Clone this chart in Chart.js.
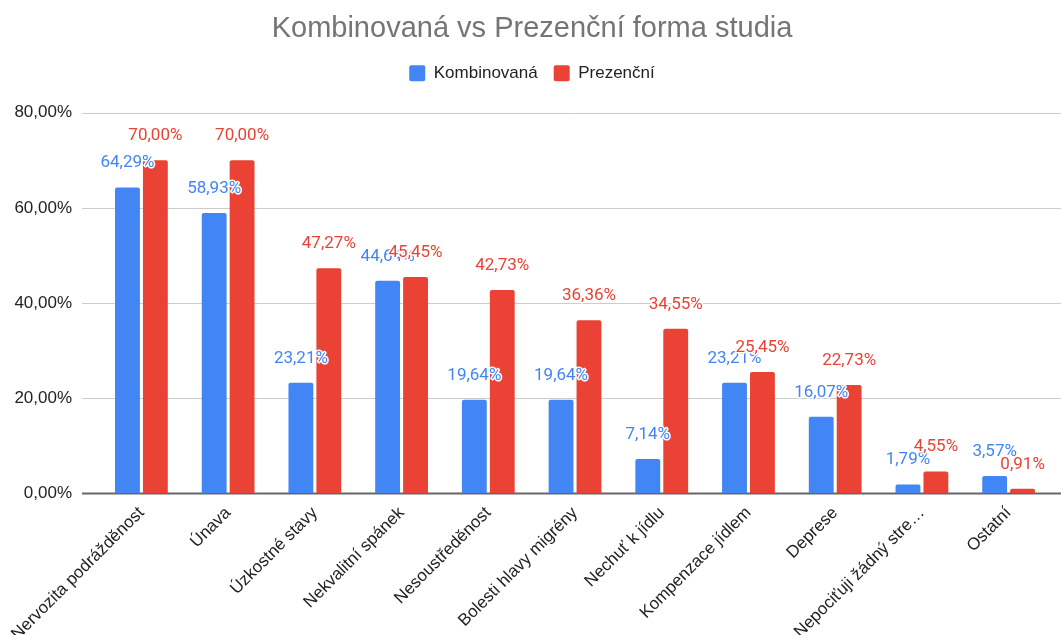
<!DOCTYPE html>
<html>
<head>
<meta charset="utf-8">
<script src="https://cdn.jsdelivr.net/npm/chart.js@4"></script>
<style>
  html, body { margin: 0; padding: 0; background: #fff; }
  #wrap { width: 1061px; height: 635px; }
</style>
</head>
<body>
<div id="wrap"><canvas id="formaChart"></canvas></div>
<script>
// kategorie a hodnoty (v %)
const kategorie = [
    'Nervozita podrážděnost', 'Únava', 'Úzkostné stavy', 'Nekvalitní spánek',
    'Nesoustředěnost', 'Bolesti hlavy migrény', 'Nechuť k jídlu', 'Kompenzace jídlem',
    'Deprese', 'Nepociťuji žádný stre…', 'Ostatní'
];
const kombinovana = [64.29, 58.93, 23.21, 44.64, 19.64, 19.64, 7.14, 23.21, 16.07, 1.79, 3.57];
const prezencni = [70.00, 70.00, 47.27, 45.45, 42.73, 36.36, 34.55, 25.45, 22.73, 4.55, 0.91];
const osaY = [0, 20, 40, 60, 80];

const BLUE = '#4285F4';
const RED = '#EA4335';

const fmt = v => v.toFixed(2).replace('.', ',') + '%';

// mřížka přes celou šířku (jako v Google Sheets)
const mrizka = {
    id: 'mrizka',
    beforeDatasetsDraw(chart) {
        const { ctx, chartArea } = chart;
        const y = chart.scales.y;
        ctx.save();
        osaY.forEach(v => {
            const py = Math.round(y.getPixelForValue(v)) + 0.5;
            ctx.beginPath();
            ctx.strokeStyle = v === 0 ? '#666666' : '#cccccc';
            ctx.lineWidth = v === 0 ? 2 : 1;
            ctx.moveTo(chartArea.left - 16, py);
            ctx.lineTo(chart.width, py);
            ctx.stroke();
        });
        ctx.restore();
    }
};

// popisky hodnot nad sloupci
const popisky = {
    id: 'popisky',
    afterDatasetsDraw(chart) {
        const ctx = chart.ctx;
        ctx.save();
        ctx.font = '17px Roboto';
        ctx.textAlign = 'center';
        ctx.textBaseline = 'alphabetic';
        ctx.lineJoin = 'round';
        ctx.lineWidth = 3;
        ctx.strokeStyle = '#ffffff';
        chart.data.datasets.forEach((ds, i) => {
            chart.getDatasetMeta(i).data.forEach((bar, j) => {
                const t = fmt(ds.data[j]);
                ctx.strokeText(t, bar.x, bar.y - 20);
                ctx.fillStyle = ds.backgroundColor;
                ctx.fillText(t, bar.x, bar.y - 20);
            });
        });
        ctx.restore();
    }
};

const ctx = document.getElementById('formaChart').getContext('2d');

new Chart(ctx, {
    type: 'bar',
    data: {
        labels: kategorie,
        datasets: [
            { label: 'Kombinovaná', data: kombinovana, backgroundColor: BLUE, borderRadius: 2, xAxisID: 'x', yAxisID: 'y' },
            { label: 'Prezenční', data: prezencni, backgroundColor: RED, borderRadius: 2, xAxisID: 'x', yAxisID: 'y' }
        ]
    },
    options: {
        responsive: true,
        maintainAspectRatio: false,
        animation: false,
        categoryPercentage: 0.644,
        barPercentage: 0.89,
        layout: { padding: { top: 0, right: 9, bottom: 0, left: 12 } },
        plugins: {
            title: {
                display: true,
                text: 'Kombinovaná vs Prezenční forma studia',
                color: '#757575',
                font: { family: 'Liberation Sans', size: 29, weight: 'normal' },
                padding: { top: 12, bottom: 2 }
            },
            legend: {
                labels: {
                    color: '#222222',
                    font: { family: 'Liberation Sans', size: 17 },
                    boxWidth: 16,
                    boxHeight: 16,
                    useBorderRadius: true,
                    borderRadius: 2,
                    padding: 16
                }
            },
            tooltip: { enabled: false }
        },
        scales: {
            x: {
                grid: { display: false, drawTicks: false },
                border: { display: false },
                ticks: {
                    color: '#222222',
                    font: { family: 'Liberation Sans', size: 17 },
                    autoSkip: false,
                    minRotation: 45,
                    maxRotation: 45,
                    padding: 10
                },
                afterFit: s => { s.height = 142; }
            },
            y: {
                min: 0,
                max: 80,
                grid: { display: false, drawTicks: false },
                border: { display: false },
                ticks: {
                    stepSize: 20,
                    color: '#222222',
                    font: { family: 'Liberation Sans', size: 17 },
                    padding: 26,
                    callback: v => fmt(v)
                },
                afterFit: s => { s.width = 84; }
            },
            // prázdná osa nahoře = mezera mezi legendou a grafem
            mezera: {
                type: 'linear',
                position: 'top',
                grid: { display: false },
                border: { display: false },
                ticks: { display: false },
                afterFit: s => { s.height = 21; }
            }
        }
    },
    plugins: [mrizka, popisky]
});
</script>
</body>
</html>
